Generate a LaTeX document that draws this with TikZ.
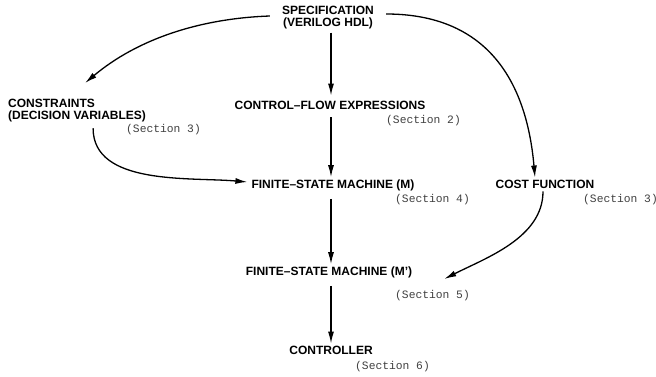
\documentclass[tikz,border=0pt]{standalone}
\usepackage{fontspec}
\setmainfont{Liberation Sans}
\newfontfamily\monofam{Liberation Mono}
\usetikzlibrary{arrows.meta}
\begin{document}
\begin{tikzpicture}[x=1pt,y=-1pt,
  lbl/.style={font=\fontsize{12}{12}\selectfont\bfseries, inner sep=2pt},
  sec/.style={font=\fontsize{11.3}{12}\monofam, text=black!75, inner sep=0pt, anchor=west},
  conn/.style={line width=1.3pt, -{Latex[length=12pt,width=6pt]}}]
\useasboundingbox (0,0) rectangle (656,377);
\node[lbl, align=center] (spec) at (328,18) {SPECIFICATION\\(VERILOG HDL)};
\node[lbl] (cfe) at (330,105) {CONTROL{\textendash}FLOW EXPRESSIONS};
\node[sec] (sec2) at (386,121) {(Section 2)};
\node[lbl] (fsm) at (333,185) {FINITE{\textendash}STATE MACHINE (M)};
\node[sec] (sec4) at (395,200) {(Section 4)};
\node[lbl] (fsmp) at (329,272) {FINITE{\textendash}STATE MACHINE (M')};
\node[sec] (sec5) at (395,296) {(Section 5)};
\node[lbl] (ctrl) at (331,350) {CONTROLLER};
\node[sec] (sec6) at (355,367) {(Section 6)};
\node[lbl, align=left, anchor=north west] (cons) at (6,97) {CONSTRAINTS\\(DECISION VARIABLES)};
\node[sec] (sec3a) at (126,130) {(Section 3)};
\node[lbl] (cost) at (545,184) {COST FUNCTION};
\node[sec] (sec3b) at (583,200) {(Section 3)};

\draw[conn, shorten <=1pt] ([xshift=1pt]cfe.north |- spec.south) -- ([xshift=1pt,yshift=3pt]cfe.north);
\draw[conn, shorten <=6pt] ([xshift=1pt]cfe.south) -- ([xshift=1pt]cfe.south |- fsm.north);
\draw[conn, shorten <=6pt] ([xshift=1pt]cfe.south |- fsm.south) -- ([xshift=1pt]cfe.south |- fsmp.north);
\draw[conn, shorten <=6pt] ([xshift=1pt]cfe.south |- fsmp.south) -- ([xshift=1pt]cfe.south |- ctrl.north);

\draw[conn] ([xshift=-10pt,yshift=2pt]spec.west) to[out=182,in=40,looseness=0.9] ([shift={(8pt,14pt)}]cons.north);
\draw[conn] ([xshift=10pt,yshift=4pt]spec.east) to[out=0,in=95,looseness=1.15] ([xshift=-10pt]cost.north);
\draw[conn] ([shift={(16pt,-4pt)}]cons.south) to[out=-90,in=175,looseness=0.9] ([xshift=-2pt,yshift=3pt]fsm.west);
\draw[conn] ([shift={(-2pt,-1pt)}]cost.south) to[out=-90,in=27,looseness=0.9] ([shift={(30pt,-7pt)}]fsmp.east);
\end{tikzpicture}
\end{document}
